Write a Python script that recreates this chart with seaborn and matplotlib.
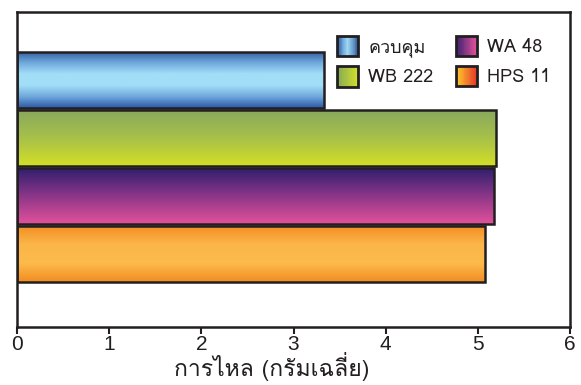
import numpy as np
import pandas as pd
import matplotlib
matplotlib.use("Agg")
import matplotlib.pyplot as plt
from matplotlib import font_manager
from matplotlib.ft2font import FT2Font
from matplotlib.colors import LinearSegmentedColormap
from matplotlib.legend_handler import HandlerBase
from matplotlib.patches import Rectangle
import seaborn as sns

# ---- data ----
categories = ["ควบคุม", "WB 222", "WA 48", "HPS 11"]
values = [3.33, 5.20, 5.17, 5.08]
xticks = [0, 1, 2, 3, 4, 5, 6]
xlabel = "การไหล (กรัมเฉลี่ย)"

# vertical gradients for the bars (top -> bottom)
bar_grads = [
    ["#2f5a9e", "#6fa8dc", "#a2def7", "#a2def7", "#6fa8dc", "#2c58a6"],
    ["#88a85e", "#a7c04a", "#d3df26"],
    ["#2c1e6c", "#8a3688", "#e3519b"],
    ["#f28c22", "#fbb548", "#fdbb4c", "#f28c22"],
]
# horizontal gradients for the legend keys (left -> right)
key_grads = [
    ["#2c5aa8", "#a2def7", "#2f5a9e"],
    ["#86a858", "#d3e02a"],
    ["#34206e", "#e3519b"],
    ["#fdd02a", "#e8392a"],
]
edge = "#231f20"


def thai_family():
    for f in font_manager.fontManager.ttflist:
        try:
            cm = FT2Font(f.fname).get_charmap()
        except Exception:
            continue
        if 0x0E01 in cm and 0x0E32 in cm and 0x0E21 in cm:
            return f.name
    return None


sns.set_theme(style="white")
fam = thai_family()
families = ([fam] if fam else []) + ["Liberation Sans", "DejaVu Sans"]
plt.rcParams["font.family"] = families

fig = plt.figure(figsize=(5.81, 3.85), dpi=100)
ax = fig.add_axes([17 / 581, 58 / 385, 553 / 581, 315 / 385])

df = pd.DataFrame({"cat": categories, "val": values})
sns.barplot(data=df, x="val", y="cat", hue="cat", palette=[c[-1] for c in bar_grads],
            orient="h", width=0.97, legend=False, ax=ax)

for p, stops in zip(ax.patches, bar_grads):
    x0, y0, w, h = p.get_x(), p.get_y(), p.get_width(), p.get_height()
    cmap = LinearSegmentedColormap.from_list("g", stops)
    grad = np.linspace(0, 1, 256).reshape(-1, 1)
    im = ax.imshow(grad, cmap=cmap, aspect="auto", origin="upper",
                   extent=(x0, x0 + w, y0 + h, y0), zorder=1, interpolation="bilinear")
    im.set_clip_path(p)
    p.set_facecolor("none")
    p.set_edgecolor(edge)
    p.set_linewidth(1.8)
    p.set_zorder(2)

ax.set_xlim(0, 6)
ax.set_ylim(4.26, -1.17)
ax.set_xticks(xticks)
ax.set_xticklabels([str(t) for t in xticks], fontsize=15, color="#231f20",
                   family=["Liberation Sans", "DejaVu Sans"])
ax.set_yticks([])
ax.set_ylabel("")
ax.set_xlabel(xlabel, fontsize=16.5, color="#231f20")
ax.xaxis.label.set_verticalalignment("baseline")
ax.xaxis.set_label_coords(0.461, -0.155)
ax.tick_params(axis="x", bottom=True, length=5, width=1.5, color=edge, pad=0.5)
for s in ax.spines.values():
    s.set_visible(True)
    s.set_color(edge)
    s.set_linewidth(1.8)


class GradientKey(HandlerBase):
    def __init__(self, stops):
        super().__init__()
        self.stops = stops

    def create_artists(self, legend, orig_handle, xdescent, ydescent, width, height,
                       fontsize, trans):
        cmap = LinearSegmentedColormap.from_list("k", self.stops)
        n = 24
        arts = []
        side = min(width, height)
        x0 = -xdescent + (width - side) / 2
        y0 = -ydescent + (height - side) / 2
        for i in range(n):
            arts.append(Rectangle((x0 + side * i / n, y0), side / n + 0.3, side,
                                  facecolor=cmap((i + 0.5) / n), edgecolor="none",
                                  transform=trans))
        arts.append(Rectangle((x0, y0), side, side, facecolor="none", edgecolor=edge,
                              linewidth=2.0, transform=trans))
        return arts


handles = [Rectangle((0, 0), 1, 1) for _ in categories]
handler_map = {h: GradientKey(g) for h, g in zip(handles, key_grads)}
leg = ax.legend(handles, categories, handler_map=handler_map, ncol=2,
                loc="upper left", bbox_to_anchor=(0.575, 0.925), frameon=False,
                fontsize=13, handlelength=1.4, handleheight=1.4, handletextpad=0.45,
                columnspacing=1.1, labelspacing=0.5, borderaxespad=0, borderpad=0)
for t in leg.get_texts():
    t.set_color("#231f20")

fig.savefig("out.png", dpi=100, facecolor="white")
